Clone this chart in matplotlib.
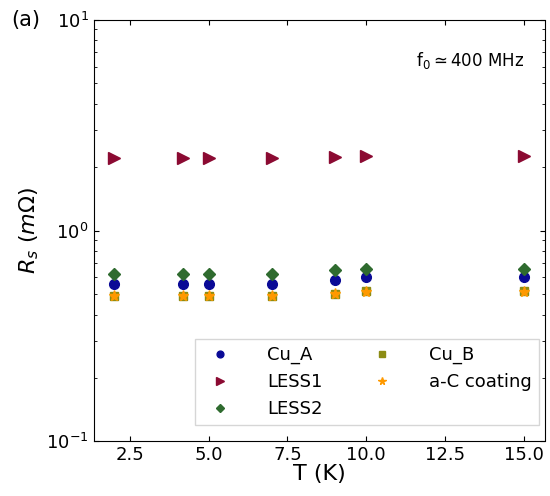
import numpy as np
import matplotlib.pyplot as plt

T = [2, 4.2, 5, 7, 9, 10, 15]
cu_a = [0.56, 0.56, 0.56, 0.56, 0.585, 0.60, 0.60]
less1 = [2.2, 2.22, 2.22, 2.22, 2.24, 2.26, 2.26]
less2 = [0.62, 0.62, 0.62, 0.62, 0.65, 0.66, 0.66]
cu_b = [0.49, 0.49, 0.49, 0.49, 0.50, 0.52, 0.52]
ac = [0.49, 0.49, 0.49, 0.49, 0.50, 0.51, 0.51]

fig = plt.figure(figsize=(5.5, 4.96), dpi=100)
ax = fig.add_axes([0.17, 0.11, 0.82, 0.85])

ax.plot(T, cu_a, 'o', color='#0a0a96', ms=7, label='Cu_A')
ax.plot(T, less1, '>', color='#8b0a32', ms=8, label='LESS1')
ax.plot(T, less2, 'D', color='#2f6b2f', ms=6, label='LESS2')
ax.plot(T, cu_b, 's', color='#8c8c14', ms=6, label='Cu_B')
ax.plot(T, ac, '*', color='#ff9900', ms=8, label='a-C coating')

ax.set_yscale('log')
ax.set_ylim(0.1, 10)
ax.set_xlim(1.35, 15.65)
ax.set_xticks([2.5, 5.0, 7.5, 10.0, 12.5, 15.0])
ax.tick_params(which='both', direction='in', top=True, right=True, labelsize=13)
ax.set_xlabel('T (K)', fontsize=16, labelpad=0)
ax.set_ylabel(r'$R_s$ $(m\Omega)$', fontsize=16)

ax.text(0.715, 0.89, r'f$_0\simeq$400 MHz', transform=ax.transAxes, fontsize=12)
fig.text(0.02, 0.96, '(a)', fontsize=15, va='center')

ax.legend(ncol=2, loc='lower right', fontsize=13, handletextpad=1.6,
          columnspacing=2.3, markerscale=0.7, fancybox=False, borderaxespad=0.3,
          bbox_to_anchor=(1.0, 0.025))

fig.savefig('out.png', dpi=100)
